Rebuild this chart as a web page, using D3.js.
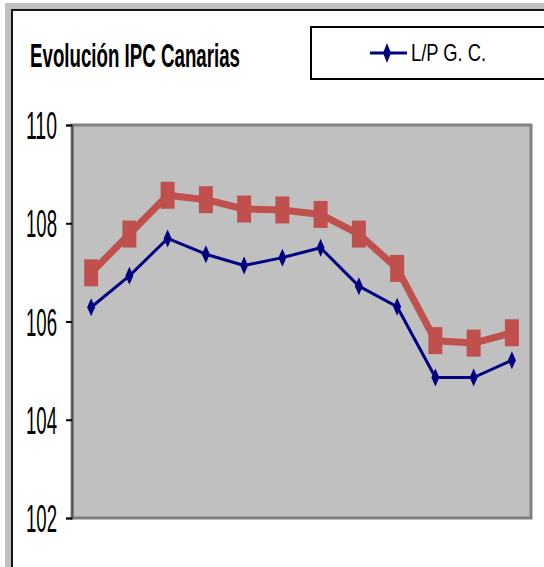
<!DOCTYPE html>
<html>
<head>
<meta charset="utf-8">
<script src="https://cdn.jsdelivr.net/npm/d3@7"></script>
<style>
  body { margin: 0; background: #fff; }
  svg { display: block; }
</style>
</head>
<body>
<div id="chart"></div>
<script>
// data
const months = ["Ene", "Feb", "Mar", "Abr", "May", "Jun", "Jul", "Ago", "Sep", "Oct", "Nov", "Dic"];
const lpgc = [106.29, 106.93, 107.69, 107.37, 107.14, 107.30, 107.50, 106.72, 106.30, 104.86, 104.86, 105.21];
const canarias = [106.99, 107.78, 108.57, 108.48, 108.29, 108.27, 108.18, 107.78, 107.08, 105.61, 105.56, 105.77];
const yTicks = [102, 104, 106, 108, 110];
const title = "Evolución IPC Canarias";
const legendLabel = "L/P G. C.";

const fontFam = "'Liberation Sans Narrow', 'Liberation Sans', Arial, sans-serif";

let width = 544,
    height = 567;
let plot = { left: 72, right: 531, top: 125, bottom: 518 };

let svg = d3.select("#chart").append("svg")
    .attr("width", width)
    .attr("height", height);

// outer frame (gray shadow + black border)
svg.append("rect").attr("x", 5).attr("y", 3).attr("width", 600).attr("height", 600).attr("fill", "#c0c0c0");
svg.append("rect").attr("x", 12).attr("y", 10).attr("width", 600).attr("height", 600)
    .attr("fill", "#fff").attr("stroke", "#000").attr("stroke-width", 1.8);

// title
svg.append("text")
    .attr("x", 30).attr("y", 67)
    .attr("font-family", fontFam)
    .attr("font-weight", "bold")
    .attr("font-size", 33)
    .attr("textLength", 210)
    .attr("lengthAdjust", "spacingAndGlyphs")
    .text(title);

// legend box
let legend = svg.append("g");
legend.append("rect").attr("x", 311).attr("y", 27).attr("width", 300).attr("height", 52)
    .attr("fill", "#fff").attr("stroke", "#000").attr("stroke-width", 2);
legend.append("line").attr("x1", 370).attr("x2", 407).attr("y1", 53).attr("y2", 53)
    .attr("stroke", "#000080").attr("stroke-width", 3);
legend.append("path")
    .attr("d", "M387,43 L391,53 L387,63 L383,53 Z")
    .attr("fill", "#000080");
legend.append("text")
    .attr("x", 411).attr("y", 61)
    .attr("font-family", fontFam)
    .attr("font-size", 24)
    .attr("textLength", 75)
    .attr("lengthAdjust", "spacingAndGlyphs")
    .text(legendLabel);

// scales
let x = d3.scalePoint().domain(months).range([plot.left, plot.right]).padding(0.5);
let y = d3.scaleLinear().domain([102, 110]).range([plot.bottom, plot.top]);

// plot area
svg.append("rect")
    .attr("x", plot.left).attr("y", plot.top)
    .attr("width", plot.right - plot.left).attr("height", plot.bottom - plot.top)
    .attr("fill", "#c0c0c0").attr("stroke", "#808080").attr("stroke-width", 3);

// y axis
let yAxis = svg.append("g")
    .attr("transform", "translate(" + plot.left + ",0)")
    .call(d3.axisLeft(y).tickValues(yTicks).tickSize(6).tickPadding(9).tickFormat(d3.format("d")));
yAxis.select(".domain").attr("stroke", "#555").attr("stroke-width", 2);
yAxis.selectAll(".tick line").attr("stroke", "#000").attr("stroke-width", 2);
yAxis.selectAll(".tick text")
    .attr("font-family", fontFam)
    .attr("font-size", 38)
    .attr("fill", "#000")
    .attr("dy", "0.36em")
    .attr("textLength", 31)
    .attr("lengthAdjust", "spacingAndGlyphs");

let line = d3.line().x((d, i) => x(months[i])).y(d => y(d));

// red series
svg.append("path").datum(canarias)
    .attr("d", line)
    .attr("fill", "none")
    .attr("stroke", "#c0504d")
    .attr("stroke-width", 7)
    .attr("stroke-linejoin", "round");
svg.append("g").selectAll("rect").data(canarias).enter().append("rect")
    .attr("x", (d, i) => x(months[i]) - 7)
    .attr("y", d => y(d) - 13.5)
    .attr("width", 14)
    .attr("height", 27)
    .attr("fill", "#c0504d");

// blue series
svg.append("path").datum(lpgc)
    .attr("d", line)
    .attr("fill", "none")
    .attr("stroke", "#000080")
    .attr("stroke-width", 3)
    .attr("stroke-linejoin", "round");
svg.append("g").selectAll("path").data(lpgc).enter().append("path")
    .attr("d", (d, i) => {
        let cx = x(months[i]), cy = y(d);
        return "M" + cx + "," + (cy - 9) + " L" + (cx + 4) + "," + cy + " L" + cx + "," + (cy + 9) + " L" + (cx - 4) + "," + cy + " Z";
    })
    .attr("fill", "#000080");
</script>
</body>
</html>
